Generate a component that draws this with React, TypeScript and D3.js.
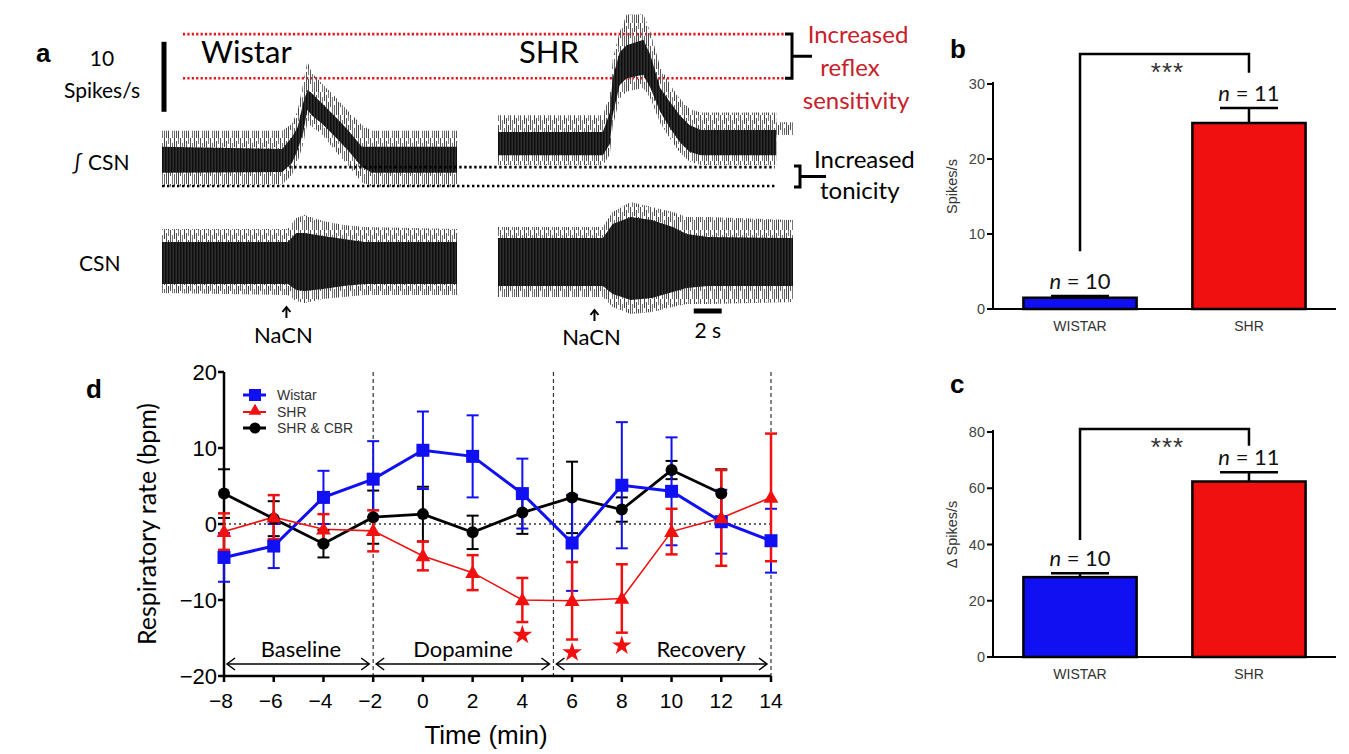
import React from 'react';
import * as d3 from 'd3';

// ---------------- Panel a : recording envelopes ----------------
// integrated CSN (spikes/s above the Wistar tonic level), time in s
const wistarIntT = [0, 8.6, 9.3, 9.7, 10.1, 10.4, 10.7, 11.4, 12.4, 13.3, 14.3, 15.0, 21.1];
const wistarIntCoreHi = [5.6, 5.3, 7.0, 8.4, 11.9, 13.7, 13.3, 11.9, 9.9, 8.0, 5.6, 5.6, 5.6];
const wistarIntCoreLo = [1.9, 2.0, 3.3, 5.1, 7.6, 10.9, 10.1, 9.0, 7.0, 5.1, 2.7, 1.9, 1.9];
const wistarIntOuterHi = [7.9, 7.9, 8.9, 10.7, 14.7, 17.8, 16.2, 14.7, 12.7, 10.7, 8.7, 7.9, 7.9];
const wistarIntOuterLo = [-0.1, 0.2, 1.6, 3.5, 6.0, 9.0, 8.5, 7.5, 5.0, 3.0, 0.5, -0.1, -0.1];

const shrIntT = [0, 7.5, 8.0, 8.2, 8.7, 9.2, 10.4, 10.9, 11.6, 12.3, 13.0, 13.7, 14.5, 19.9];
const shrIntCoreHi = [7.7, 7.7, 10.5, 15.4, 19.1, 20.1, 20.9, 18.7, 14.0, 12.0, 10.1, 8.7, 8.0, 8.0];
const shrIntCoreLo = [4.4, 4.4, 6.0, 10.1, 14.4, 15.4, 15.9, 14.0, 10.6, 8.3, 6.3, 4.9, 4.4, 4.4];
const shrIntOuterHi = [10.1, 10.1, 13.0, 18.0, 22.0, 24.5, 24.5, 22.0, 17.0, 14.5, 12.5, 11.0, 10.5, 10.5];
const shrIntOuterLo = [3.0, 3.0, 4.5, 8.5, 12.5, 13.5, 14.0, 12.5, 9.0, 6.8, 4.8, 3.5, 3.0, 3.0];
const shrIntEndT = [19.9, 21.1];
const shrIntEndLo = [7.3, 7.3];
const shrIntEndHi = [9.1, 9.1];

// raw CSN (arbitrary µV)
const wistarCsnT = [0, 9.0, 9.6, 10.2, 11.5, 13.0, 14.5, 21.1];
const wistarCsnCoreHi = [21, 21, 30, 30, 27, 24, 21, 21];
const wistarCsnCoreLo = [-21, -21, -27, -28, -26, -23, -21, -21];
const wistarCsnOuterHi = [34, 34, 45, 48, 42, 38, 36, 34];
const wistarCsnOuterLo = [-30, -32, -38, -40, -36, -34, -32, -32];

const shrCsnT = [0, 7.5, 8.2, 9.5, 11.0, 12.5, 13.5, 15.0, 21.1];
const shrCsnCoreHi = [24, 24, 38, 45, 42, 35, 28, 25, 24];
const shrCsnCoreLo = [-24, -24, -32, -38, -36, -30, -26, -24, -24];
const shrCsnOuterHi = [35, 35, 50, 60, 55, 50, 45, 45, 42];
const shrCsnOuterLo = [-35, -35, -45, -52, -50, -45, -42, -42, -40];

const wistarPeakLevel = 15.4;
const shrPeakLevel = 21.7;
const wistarTonicLevel = 0;
const shrTonicLevel = 2.7;
const wistarNaCNTime = 8.9;
const shrNaCNTime = 6.9;

// ---------------- Panel b / c ----------------
const barCategories = ['WISTAR', 'SHR'];
const barN = [10, 11];
const bValues = [1.5, 24.8];
const bErrors = [0.25, 2.0];
const bTicks = [0, 10, 20, 30];
const cValues = [28.4, 62.4];
const cErrors = [1.4, 3.3];
const cTicks = [0, 20, 40, 60, 80];
const bBracket = [7.7, 34.0, 31.5];
const cBracket = [41.6, 81.1, 75.1];

// ---------------- Panel d ----------------
const times = [-8, -6, -4, -2, 0, 2, 4, 6, 8, 10, 12, 14];
const wistarMean = [-4.4, -2.9, 3.5, 5.9, 9.7, 8.9, 4.0, -2.5, 5.1, 4.3, 0.3, -2.2];
const wistarErr = [3.2, 2.9, 3.5, 5.0, 5.1, 5.4, 4.6, 6.3, 8.3, 7.1, 4.2, 4.2];
const shrMean = [-1.0, 0.9, -0.7, -0.9, -4.2, -6.4, -10.0, -10.1, -9.8, -1.0, 0.8, 3.5];
const shrErr = [2.4, 2.9, 2.0, 2.7, 1.9, 2.3, 2.9, 5.1, 4.5, 3.0, 6.3, 8.4];
const cbrTimes = [-8, -6, -4, -2, 0, 2, 4, 6, 8, 10, 12];
const cbrMean = [4.0, 0.7, -2.6, 0.9, 1.3, -1.1, 1.5, 3.5, 1.9, 7.1, 4.0];
const cbrErr = [3.2, 2.3, 1.8, 3.5, 3.6, 2.2, 2.8, 4.7, 1.6, 1.2, 3.2];
const starTimes = [4, 6, 8];
const yTicksD = [-20, -10, 0, 10, 20];
const xTicksD = [-8, -6, -4, -2, 0, 2, 4, 6, 8, 10, 12, 14];
const phaseBounds = [-8, -2, 5.25, 14];
const phaseNames = ['Baseline', 'Dopamine', 'Recovery'];

const CAL = 'Lato, "Open Sans", sans-serif';
const ARIAL = '"Liberation Sans", Arial, sans-serif';
const BLUE = '#1010f2';
const RED = '#f01010';

const minus = (v: number) => (v < 0 ? '\u2212' + Math.abs(v) : String(v));

function band(xs: any, ys: any, t: number[], lo: number[], hi: number[]) {
  return d3
    .area<number>()
    .x((_, i) => xs(t[i]))
    .y0((_, i) => ys(lo[i]))
    .y1((_, i) => ys(hi[i]))(t) as string;
}

function Trace({ xs, ys, t, cLo, cHi, oLo, oHi }: any) {
  return (
    <g>
      <path d={band(xs, ys, t, oLo, oHi)} fill="url(#fringe)" />
      <path d={band(xs, ys, t, cLo, cHi)} fill="url(#core)" />
    </g>
  );
}

function UpArrow({ x, y }: { x: number; y: number }) {
  return (
    <g stroke="#000" strokeWidth={2} fill="none">
      <line x1={x} y1={y} x2={x} y2={y + 11} />
      <polyline points={`${x - 4},${y + 5} ${x},${y} ${x + 4},${y + 5}`} />
    </g>
  );
}

function BarPanel({ values, errors, ticks, yMax, top, bottom, label, yLabel, bracket }: any) {
  const x = d3.scaleBand().domain(barCategories).range([993, 1336]).paddingInner(0.33).paddingOuter(0.18);
  const y = d3.scaleLinear().domain([0, yMax]).range([bottom, top]);
  const colors = [BLUE, RED];
  const xc = (c: string) => (x(c) as number) + x.bandwidth() / 2;
  return (
    <g>
      <text x={950} y={label === 'b' ? 58 : 393} fontFamily={ARIAL} fontWeight="bold" fontSize={26}>{label}</text>
      {barCategories.map((c, i) => (
        <g key={c}>
          <line x1={xc(c)} x2={xc(c)} y1={y(values[i])} y2={y(values[i] + errors[i])} stroke="#000" strokeWidth={2.5} />
          <line x1={xc(c) - 29} x2={xc(c) + 29} y1={y(values[i] + errors[i])} y2={y(values[i] + errors[i])} stroke="#000" strokeWidth={2.5} />
          <rect x={x(c)} y={y(values[i])} width={x.bandwidth()} height={y(0) - y(values[i])} fill={colors[i]} stroke="#000" strokeWidth={2.5} />
          <text x={xc(c)} y={y(0) + 22} textAnchor="middle" fontFamily={ARIAL} fontSize={14} fill="#333">{c}</text>
          <text x={xc(c)} y={y(values[i] + errors[i]) - 7} textAnchor="middle" fontFamily={CAL} fontSize={22} fill="#111">
            <tspan fontStyle="italic">n</tspan> = {barN[i]}
          </text>
        </g>
      ))}
      <line x1={993} x2={993} y1={top - 2} y2={bottom} stroke="#000" strokeWidth={2} />
      <line x1={992} x2={1336} y1={bottom} y2={bottom} stroke="#000" strokeWidth={2} />
      {ticks.map((t: number) => (
        <g key={t}>
          <line x1={987} x2={993} y1={y(t)} y2={y(t)} stroke="#000" strokeWidth={2} />
          <text x={985} y={y(t) + 5} textAnchor="end" fontFamily={ARIAL} fontSize={14.5} fill="#444">{t}</text>
        </g>
      ))}
      <text transform={`translate(957,${(top + bottom) / 2 - 10}) rotate(-90)`} textAnchor="middle" fontFamily={ARIAL} fontSize={14.5} fill="#333">{yLabel}</text>
      <path
        d={`M${xc('WISTAR')},${y(bracket[0])} V${y(bracket[1])} H${xc('SHR')} V${y(bracket[2])}`}
        fill="none" stroke="#000" strokeWidth={2.5}
      />
      <text x={(xc('WISTAR') + xc('SHR')) / 2 + 3} y={y(bracket[1]) + 27} textAnchor="middle" fontFamily={ARIAL} fontSize={26} fill="#333" letterSpacing={1}>***</text>
    </g>
  );
}

export default function App() {
  // ---- panel a scales
  const xW = d3.scaleLinear().domain([0, 21.1]).range([162, 457]);
  const xS = d3.scaleLinear().domain([0, 21.1]).range([498, 793]);
  const yInt = d3.scaleLinear().domain([0, 10]).range([186, 116]);
  const yCsnW = d3.scaleLinear().domain([-50, 50]).range([313, 213]);
  const yCsnS = d3.scaleLinear().domain([-50, 50]).range([312, 212]);

  // ---- panel d scales
  const xD = d3.scaleLinear().domain([-8, 14]).range([224, 771]);
  const yD = d3.scaleLinear().domain([-20, 20]).range([676, 372]);
  const lineGen = (ts: number[], vs: number[]) =>
    d3.line<number>().x((_, i) => xD(ts[i])).y((_, i) => yD(vs[i]))(ts) as string;
  const tri = d3.symbol(d3.symbolTriangle, 95)() as string;
  const star = d3.symbol(d3.symbolStar, 120)() as string;

  const errBars = (ts: number[], m: number[], e: number[], color: string, w: number) =>
    ts.map((t, i) => {
      const x = xD(t);
      const y1 = yD(m[i] + e[i]);
      const y2 = yD(m[i] - e[i]);
      return (
        <g key={'e' + color + i} stroke={color} strokeWidth={w}>
          <line x1={x} x2={x} y1={y1} y2={y2} />
          <line x1={x - 6} x2={x + 6} y1={y1} y2={y1} />
          <line x1={x - 6} x2={x + 6} y1={y2} y2={y2} />
        </g>
      );
    });

  const arrowY = 664;
  const phaseArrows = phaseNames.map((name, i) => {
    const x1 = xD(phaseBounds[i]) + 3;
    const x2 = xD(phaseBounds[i + 1]) - 4;
    return (
      <g key={name}>
        <line x1={x1} x2={x2} y1={arrowY} y2={arrowY} stroke="#000" strokeWidth={1.5} />
        <polyline points={`${x1 + 8},${arrowY - 6} ${x1},${arrowY} ${x1 + 8},${arrowY + 6}`} fill="none" stroke="#000" strokeWidth={1.5} />
        <polyline points={`${x2 - 8},${arrowY - 6} ${x2},${arrowY} ${x2 - 8},${arrowY + 6}`} fill="none" stroke="#000" strokeWidth={1.5} />
      </g>
    );
  });

  return (
    <svg width={1349} height={754} style={{ position: 'absolute', left: 0, top: 0, background: '#fff' }}>
      <defs>
        <pattern id="fringe" width={10} height={23} patternUnits="userSpaceOnUse">
          <rect x={0} y={0} width={1} height={15} fill="#555" />
          <rect x={2} y={5} width={1} height={18} fill="#777" />
          <rect x={4} y={0} width={1} height={9} fill="#444" />
          <rect x={4} y={13} width={1} height={10} fill="#666" />
          <rect x={6} y={3} width={1} height={20} fill="#555" />
          <rect x={8} y={0} width={1} height={6} fill="#777" />
          <rect x={8} y={10} width={1} height={13} fill="#444" />
        </pattern>
        <pattern id="core" width={3} height={6} patternUnits="userSpaceOnUse">
          <rect width={3} height={6} fill="#2e2e2e" />
          <rect width={1.5} height={6} fill="#0d0d0d" />
        </pattern>
      </defs>
      <rect width={1349} height={754} fill="#fff" />

      {/* ================= Panel a ================= */}
      <text x={36} y={62} fontFamily={ARIAL} fontWeight="bold" fontSize={26}>a</text>
      <text x={102} y={66} textAnchor="middle" fontFamily={CAL} fontSize={21}>10</text>
      <text x={102} y={98} textAnchor="middle" fontFamily={CAL} fontSize={21}>Spikes/s</text>
      <line x1={164} x2={164} y1={yInt(10.6)} y2={yInt(20.6)} stroke="#000" strokeWidth={5} />
      <text x={201} y={63} fontFamily={CAL} fontSize={31}>Wistar</text>
      <text x={519} y={63} fontFamily={CAL} fontSize={31}>SHR</text>
      <text x={72} y={170} fontFamily={CAL} fontSize={21}>∫ CSN</text>
      <text x={79} y={271} fontFamily={CAL} fontSize={21}>CSN</text>

      {/* reference levels */}
      <line x1={xW(1.5)} x2={xS(20.5)} y1={yInt(shrPeakLevel)} y2={yInt(shrPeakLevel)} stroke="#e8141c" strokeWidth={2.6} strokeDasharray="2.2 2.2" />
      <line x1={xW(1.5)} x2={xS(20.5)} y1={yInt(wistarPeakLevel)} y2={yInt(wistarPeakLevel)} stroke="#e8141c" strokeWidth={2.6} strokeDasharray="2.2 2.2" />

      <Trace xs={xW} ys={yInt} t={wistarIntT} cLo={wistarIntCoreLo} cHi={wistarIntCoreHi} oLo={wistarIntOuterLo} oHi={wistarIntOuterHi} />
      <Trace xs={xS} ys={yInt} t={shrIntT} cLo={shrIntCoreLo} cHi={shrIntCoreHi} oLo={shrIntOuterLo} oHi={shrIntOuterHi} />
      <path d={band(xS, yInt, shrIntEndT, shrIntEndLo, shrIntEndHi)} fill="url(#fringe)" />
      <Trace xs={xW} ys={yCsnW} t={wistarCsnT} cLo={wistarCsnCoreLo} cHi={wistarCsnCoreHi} oLo={wistarCsnOuterLo} oHi={wistarCsnOuterHi} />
      <Trace xs={xS} ys={yCsnS} t={shrCsnT} cLo={shrCsnCoreLo} cHi={shrCsnCoreHi} oLo={shrCsnOuterLo} oHi={shrCsnOuterHi} />

      <line x1={xW(9.1)} x2={xS(19.8)} y1={yInt(shrTonicLevel)} y2={yInt(shrTonicLevel)} stroke="#000" strokeWidth={2.6} strokeDasharray="2.4 2.6" />
      <line x1={xW(0)} x2={xS(19.8)} y1={yInt(wistarTonicLevel)} y2={yInt(wistarTonicLevel)} stroke="#000" strokeWidth={2.6} strokeDasharray="2.4 2.6" />

      {/* brackets */}
      <path d={`M785,${yInt(shrPeakLevel)} H792 V${yInt(wistarPeakLevel)} H785 M792,${(yInt(shrPeakLevel) + yInt(wistarPeakLevel)) / 2} H812`} fill="none" stroke="#000" strokeWidth={3} />
      <path d={`M794,${yInt(shrTonicLevel) - 1} H800 V${yInt(wistarTonicLevel) + 1} H794 M800,${(yInt(shrTonicLevel) + yInt(wistarTonicLevel)) / 2} H826`} fill="none" stroke="#000" strokeWidth={3} />
      <g fontFamily={CAL} fontSize={24} fill="#c8202a" textAnchor="middle">
        <text x={858} y={43}>Increased</text>
        <text x={850} y={76}>reflex</text>
        <text x={856} y={109}>sensitivity</text>
      </g>
      <g fontFamily={CAL} fontSize={24} fill="#000">
        <text x={814} y={168}>Increased</text>
        <text x={820} y={199}>tonicity</text>
      </g>

      {/* NaCN and time bar */}
      <UpArrow x={xW(wistarNaCNTime)} y={307} />
      <text x={xW(wistarNaCNTime) - 3} y={343} textAnchor="middle" fontFamily={CAL} fontSize={22}>NaCN</text>
      <UpArrow x={xS(shrNaCNTime)} y={310} />
      <text x={xS(shrNaCNTime) - 3} y={345} textAnchor="middle" fontFamily={CAL} fontSize={22}>NaCN</text>
      <line x1={xS(14.0)} x2={xS(16.0)} y1={311} y2={311} stroke="#000" strokeWidth={5} />
      <text x={xS(15.0)} y={338} textAnchor="middle" fontFamily={CAL} fontSize={21}>2 s</text>

      {/* ================= Panel b & c ================= */}
      <BarPanel values={bValues} errors={bErrors} ticks={bTicks} yMax={30} top={84} bottom={309} label="b" yLabel="Spikes/s" bracket={bBracket} />
      <BarPanel values={cValues} errors={cErrors} ticks={cTicks} yMax={80} top={432} bottom={657} label="c" yLabel="Δ Spikes/s" bracket={cBracket} />

      {/* ================= Panel d ================= */}
      <text x={86} y={398} fontFamily={ARIAL} fontWeight="bold" fontSize={26}>d</text>
      <line x1={xD(-8)} x2={xD(14)} y1={yD(0)} y2={yD(0)} stroke="#333" strokeWidth={1.6} strokeDasharray="2 3" />
      {phaseBounds.slice(1).map((b) => (
        <line key={b} x1={xD(b)} x2={xD(b)} y1={yD(20)} y2={yD(-20)} stroke="#333" strokeWidth={1.2} strokeDasharray="4 3" />
      ))}
      {phaseArrows}
      <g fontFamily={CAL} fontSize={22} textAnchor="middle">
        <text x={301} y={657}>Baseline</text>
        <text x={463} y={657}>Dopamine</text>
        <text x={701} y={657}>Recovery</text>
      </g>

      {/* axes */}
      <line x1={xD(-8)} x2={xD(-8)} y1={yD(20)} y2={yD(-20)} stroke="#000" strokeWidth={2.5} />
      <line x1={xD(-8)} x2={xD(14)} y1={yD(-20)} y2={yD(-20)} stroke="#000" strokeWidth={2.5} />
      {yTicksD.map((t) => (
        <g key={t}>
          <line x1={xD(-8) - 6} x2={xD(-8)} y1={yD(t)} y2={yD(t)} stroke="#000" strokeWidth={2.5} />
          <text x={xD(-8) - 7} y={yD(t) + 8} textAnchor="end" fontFamily={ARIAL} fontSize={22}>{minus(t)}</text>
        </g>
      ))}
      {xTicksD.map((t) => (
        <g key={t}>
          <line x1={xD(t)} x2={xD(t)} y1={yD(-20)} y2={yD(-20) + 6} stroke="#000" strokeWidth={2.5} />
          <text x={xD(t) + (t < 0 ? -3 : 0)} y={708} textAnchor="middle" fontFamily={ARIAL} fontSize={21}>{minus(t)}</text>
        </g>
      ))}
      <text x={486} y={744} textAnchor="middle" fontFamily={ARIAL} fontSize={26}>Time (min)</text>
      <text transform={`translate(156,${yD(0)}) rotate(-90)`} textAnchor="middle" fontFamily={CAL} fontSize={25}>Respiratory rate (bpm)</text>

      {/* series */}
      <path d={lineGen(cbrTimes, cbrMean)} fill="none" stroke="#000" strokeWidth={2.8} />
      <path d={lineGen(times, wistarMean)} fill="none" stroke={BLUE} strokeWidth={3} />
      <path d={lineGen(times, shrMean)} fill="none" stroke={RED} strokeWidth={1.6} />
      {errBars(cbrTimes, cbrMean, cbrErr, '#000', 2)}
      {errBars(times, wistarMean, wistarErr, BLUE, 2)}
      {errBars(times, shrMean, shrErr, RED, 2.5)}
      {cbrTimes.map((t, i) => (
        <circle key={'c' + i} cx={xD(t)} cy={yD(cbrMean[i])} r={6} fill="#000" />
      ))}
      {times.map((t, i) => (
        <rect key={'s' + i} x={xD(t) - 6.5} y={yD(wistarMean[i]) - 6.5} width={13} height={13} fill={BLUE} />
      ))}
      {times.map((t, i) => (
        <path key={'t' + i} d={tri} transform={`translate(${xD(t)},${yD(shrMean[i]) + 1})`} fill={RED} />
      ))}
      {starTimes.map((t) => {
        const i = times.indexOf(t);
        return <path key={'st' + t} d={star} transform={`translate(${xD(t)},${yD(shrMean[i] - shrErr[i] - 1.7)})`} fill={RED} />;
      })}

      {/* legend */}
      <g fontFamily={ARIAL} fontSize={14} fill="#333">
        <line x1={243} x2={266} y1={395} y2={395} stroke={BLUE} strokeWidth={3} />
        <rect x={249} y={389} width={12} height={12} fill={BLUE} />
        <text x={277} y={400}>Wistar</text>
        <line x1={243} x2={266} y1={412} y2={412} stroke={RED} strokeWidth={2} />
        <path d={d3.symbol(d3.symbolTriangle, 70)() as string} transform="translate(255,411)" fill={RED} />
        <text x={277} y={417}>SHR</text>
        <line x1={243} x2={266} y1={428} y2={428} stroke="#000" strokeWidth={3} />
        <circle cx={255} cy={428} r={5.5} fill="#000" />
        <text x={277} y={433}>SHR &amp; CBR</text>
      </g>
    </svg>
  );
}
